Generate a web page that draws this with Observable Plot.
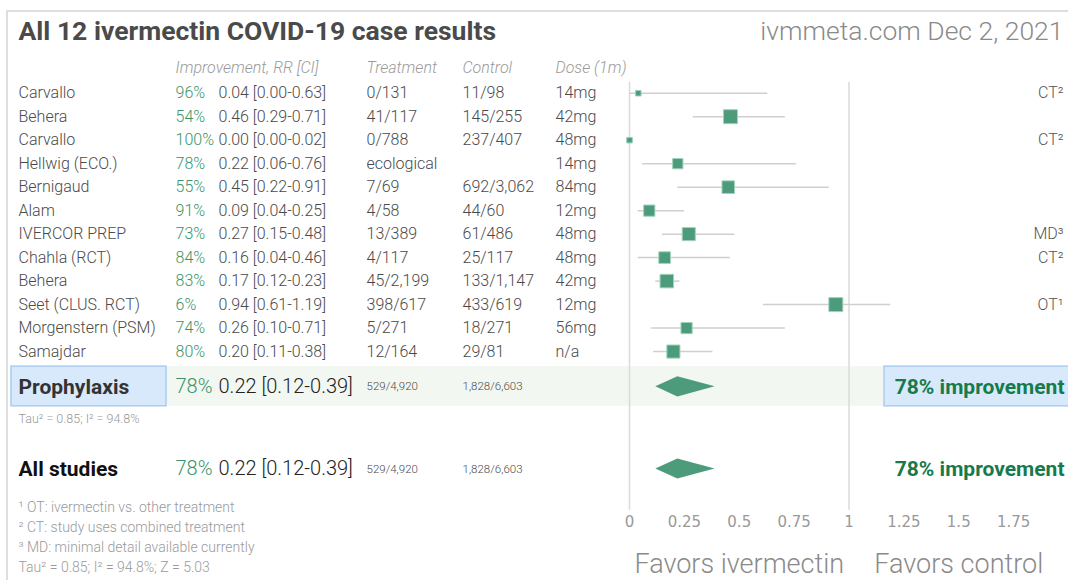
<!DOCTYPE html>
<html><head><meta charset="utf-8">
<script src="https://cdn.jsdelivr.net/npm/d3@7"></script>
<script src="https://cdn.jsdelivr.net/npm/@observablehq/plot@0.6"></script>
<style>
body{margin:0;background:#fff;}
#wrap{position:relative;width:1068px;height:580px;overflow:hidden;}
#border{position:absolute;left:6px;top:10px;width:1100px;height:620px;border-top:2px solid #dedede;border-left:2px solid #dedede;pointer-events:none;}
</style></head><body><div id="wrap"></div>
<script>
// ---- data ----
const studies = ["Carvallo","Behera","Carvallo","Hellwig (ECO.)","Bernigaud","Alam","IVERCOR PREP","Chahla (RCT)","Behera","Seet (CLUS. RCT)","Morgenstern (PSM)","Samajdar"];
const improvement = ["96%","54%","100%","78%","55%","91%","73%","84%","83%","6%","74%","80%"];
const rr = [0.04,0.46,0.00,0.22,0.45,0.09,0.27,0.16,0.17,0.94,0.26,0.20];
const ciLow = [0.00,0.29,0.00,0.06,0.22,0.04,0.15,0.04,0.12,0.61,0.10,0.11];
const ciHigh = [0.63,0.71,0.02,0.76,0.91,0.25,0.48,0.46,0.23,1.19,0.71,0.38];
const treatment = ["0/131","41/117","0/788","ecological","7/69","4/58","13/389","4/117","45/2,199","398/617","5/271","12/164"];
const control = ["11/98","145/255","237/407","","692/3,062","44/60","61/486","25/117","133/1,147","433/619","18/271","29/81"];
const dose = ["14mg","42mg","48mg","14mg","84mg","12mg","48mg","48mg","42mg","12mg","56mg","n/a"];
const notes = ["CT²","","CT²","","","","MD³","CT²","","OT¹","",""];
const weight = [1.9,12.0,1.9,6.5,9.7,7.7,10.5,8.3,11.2,12.0,7.7,10.5];

const groups = ["Prophylaxis","All studies"];
const groupImp = ["78%","78%"];
const groupRR = [0.22,0.22];
const groupLow = [0.12,0.12];
const groupHigh = [0.39,0.39];
const groupTreat = ["529/4,920","529/4,920"];
const groupCtrl = ["1,828/6,603","1,828/6,603"];
const groupResult = ["78% improvement","78% improvement"];
const groupRow = [12.5,16];
const groupHet = ["Tau² = 0.85; I² = 94.8%"];

const headers = ["Improvement, RR [CI]","Treatment","Control","Dose (1m)"];
const footnotes = ["¹ OT: ivermectin vs. other treatment","² CT: study uses combined treatment","³ MD: minimal detail available currently","Tau² = 0.85; I² = 94.8%; Z = 5.03"];
const tickValues = [0,0.25,0.5,0.75,1,1.25,1.5,1.75];
const tickLabels = ["0","0.25","0.5","0.75","1","1.25","1.5","1.75"];
const favors = ["Favors ivermectin","Favors control"];
const favorsAt = [0.5,1.5];
const title = "All 12 ivermectin COVID-19 case results";
const source = "ivmmeta.com Dec 2, 2021";

// ---- build tables ----
const f2 = v => v.toFixed(2);
const rows = studies.map((name,i)=>({i,name,imp:improvement[i],rr:rr[i],lo:ciLow[i],hi:ciHigh[i],
  rrText:`${f2(rr[i])} [${f2(ciLow[i])}-${f2(ciHigh[i])}]`,t:treatment[i],c:control[i],dose:dose[i],note:notes[i],w:weight[i]}));
const grp = groups.map((name,k)=>({k,name,imp:groupImp[k],rr:groupRR[k],lo:groupLow[k],hi:groupHigh[k],
  rrText:`${f2(groupRR[k])} [${f2(groupLow[k])}-${f2(groupHigh[k])}]`,t:groupTreat[k],c:groupCtrl[k],res:groupResult[k],row:groupRow[k]}));
const dh = 0.43;
const diamond = grp.flatMap(g=>[
  {g:g.k,y:g.row-dh,x1:g.rr,x2:g.rr},
  {g:g.k,y:g.row,x1:g.lo,x2:g.hi},
  {g:g.k,y:g.row+dh,x1:g.rr,x2:g.rr}]);
const colHeader = [175,366,462,555];
const footRows = footnotes.map((t,j)=>({t,row:[17.62,18.48,19.36,20.2][j]}));

const GREEN="#3a946a", DARK="#4a4a4a", FILL="#4c9b7b";
const L = (data,o)=>Plot.text(data,{frameAnchor:"left",textAnchor:"start",fontSize:16,fontWeight:300,fill:DARK,...o});

const chart = Plot.plot({
  width:1068,height:580,margin:0,
  style:{fontFamily:"Roboto, 'Open Sans', sans-serif",fontSize:"16px",background:"transparent",color:DARK},
  x:{domain:[0,2],range:[629,1068],axis:null},
  y:{domain:[0,16],range:[92.7,468.5],axis:null},
  r:{type:"sqrt",domain:[0,12],range:[0,7.9]},
  marks:[
    // prophylaxis band and boxes
    Plot.rect([groups[0]],{y1:11.64,y2:13.33,fill:"#f2f7f1",insetLeft:10}),
    Plot.rect([groups[0]],{y1:11.64,y2:13.33,fill:"#d7e9fb",stroke:"#a9cdf1",strokeWidth:1.5,insetLeft:11,insetRight:902}),
    Plot.rect([groupResult[0]],{y1:11.64,y2:13.33,fill:"#d7e9fb",stroke:"#a9cdf1",strokeWidth:1.5,insetLeft:884,insetRight:-4}),
    // reference lines
    Plot.ruleX([0,1],{y1:-0.46,y2:17.76,stroke:"#dadada",strokeWidth:1.5}),
    // CIs and squares
    Plot.ruleY(rows,{y:"i",x1:"lo",x2:"hi",stroke:"#cfcfcf",strokeWidth:1.5}),
    Plot.dot(rows,{x:"rr",y:"i",r:"w",symbol:"square",fill:FILL,stroke:"#a3d2bd",strokeWidth:1}),
    Plot.areaX(diamond,{y:"y",x1:"x1",x2:"x2",z:"g",fill:FILL,curve:"linear"}),
    // title
    Plot.text([title],{frameAnchor:"top-left",dx:18,dy:31,lineAnchor:"middle",textAnchor:"start",fontSize:26.5,fontWeight:"bold",fill:"#4a4a4a"}),
    Plot.text([source],{frameAnchor:"top-right",dx:-5,dy:31,lineAnchor:"middle",textAnchor:"end",fontSize:26.5,fontWeight:300,fill:"#8a8a8a"}),
    // headers
    ...headers.map((h,j)=>Plot.text([h],{frameAnchor:"left",y:()=>-1.06,dx:colHeader[j],textAnchor:"start",fontSize:16,fontWeight:300,fontStyle:"italic",fill:"#9a9a9a"})),
    // study rows
    L(rows,{y:"i",text:"name",dx:18}),
    L(rows,{y:"i",text:"imp",dx:175,fill:GREEN}),
    L(rows,{y:"i",text:"rrText",dx:218}),
    L(rows,{y:"i",text:"t",dx:366}),
    L(rows,{y:"i",text:"c",dx:462}),
    L(rows,{y:"i",text:"dose",dx:555}),
    Plot.text(rows,{y:"i",text:"note",frameAnchor:"right",dx:-5,textAnchor:"end",fontSize:16,fontWeight:300,fill:"#555"}),
    // group rows
    Plot.text(grp,{y:"row",text:"name",frameAnchor:"left",dx:18,textAnchor:"start",fontSize:21,fontWeight:"bold",fill:d=>d.k===0?"#333":"#111"}),
    L(grp,{y:"row",text:"imp",dx:175,fontSize:20,fill:GREEN}),
    L(grp,{y:"row",text:"rrText",dx:218,fontSize:20,fill:"#222"}),
    L(grp,{y:"row",text:"t",dx:366,fontSize:11.5}),
    L(grp,{y:"row",text:"c",dx:462,fontSize:11.5}),
    Plot.text(grp,{y:"row",text:"res",frameAnchor:"right",dx:-4,textAnchor:"end",fontSize:21,fontWeight:"bold",fill:"#177a4b"}),
    L(groupHet,{y:()=>13.86,dx:18,fontSize:12.5,fill:"#999"}),
    // footnotes
    L(footRows,{y:"row",text:"t",dx:18,fontSize:14,fill:"#9a9a9a"}),
    // axis labels
    Plot.text(tickValues,{x:d=>d,y:()=>18.26,text:(d,i)=>tickLabels[i],fontFamily:"DejaVu Sans",fontSize:15,fill:"#999"}),
    Plot.text(favors,{x:(d,i)=>favorsAt[i],y:()=>20.06,fontSize:27,fontWeight:300,fill:"#8a8a8a"})
  ]
});
document.getElementById("wrap").appendChild(chart);
const b=document.createElement("div");b.id="border";document.getElementById("wrap").appendChild(b);
</script>
</body></html>
